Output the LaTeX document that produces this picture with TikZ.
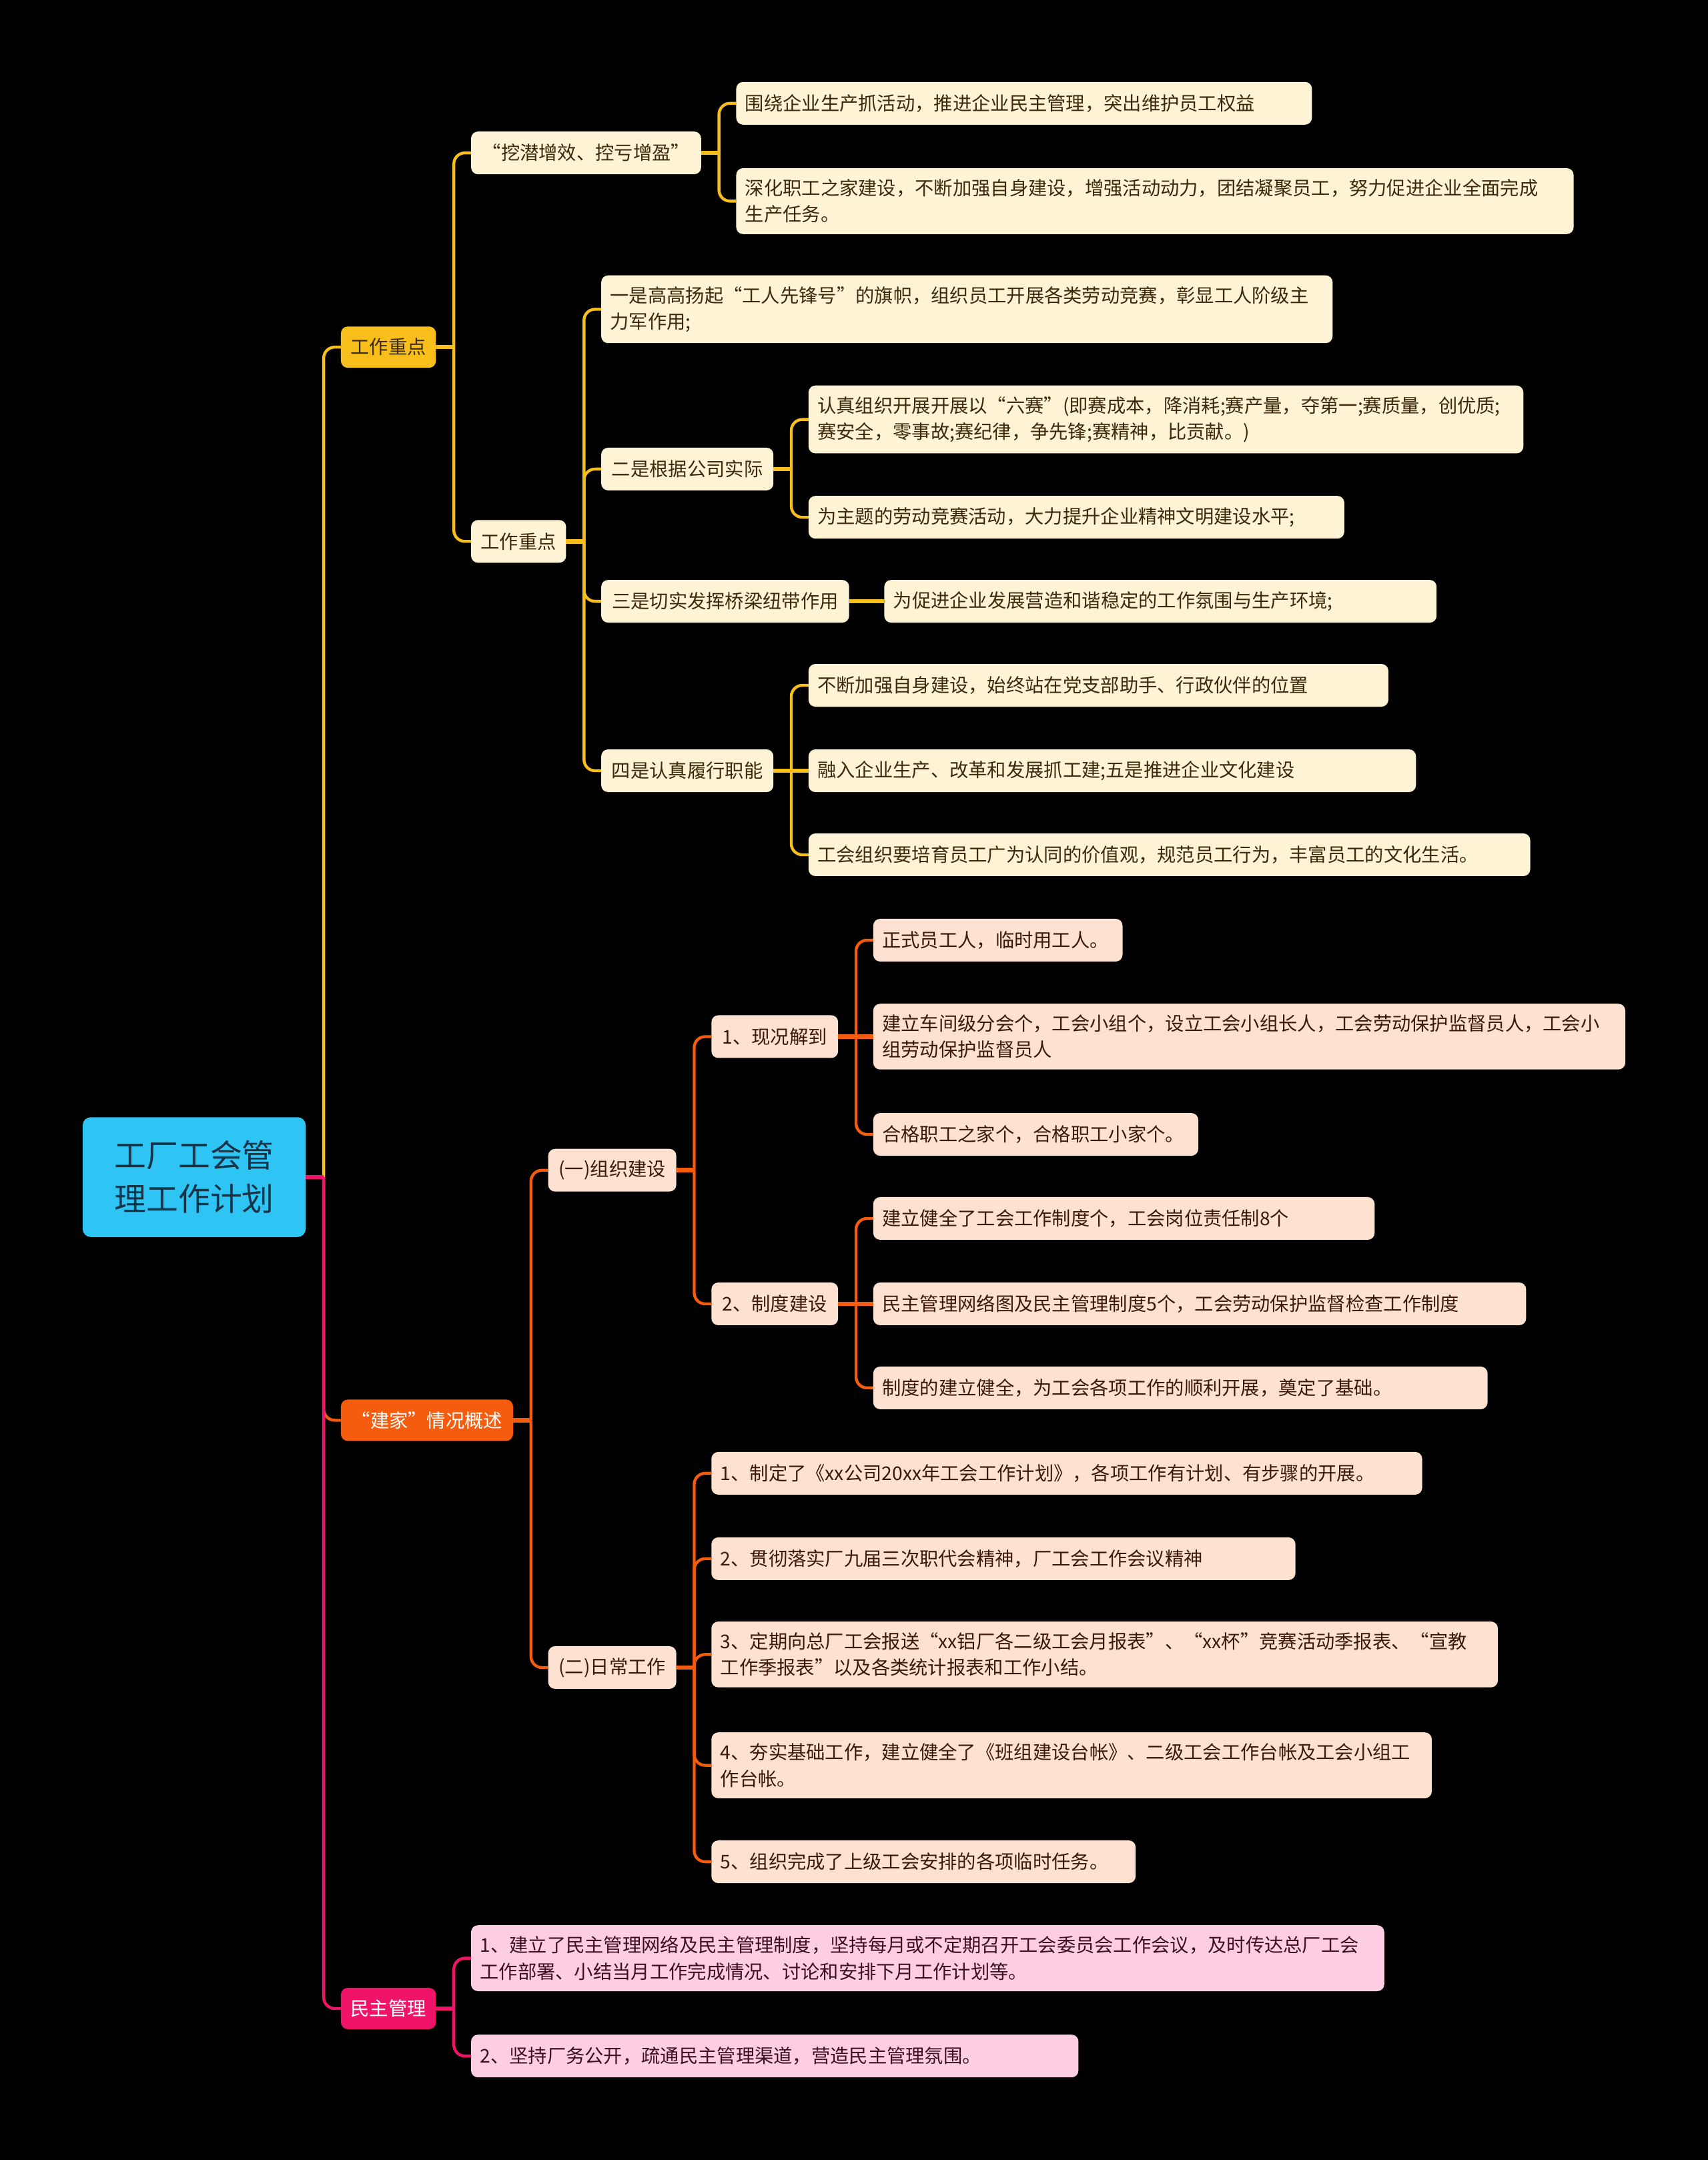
\documentclass[tikz,border=0pt]{standalone}
\usepackage{fontspec}
\setmainfont{Noto Sans CJK SC}
\usepackage{tikz}
\usetikzlibrary{positioning}
\usepackage{xcolor}
\definecolor{cBg}{RGB}{0,0,0}
\definecolor{cRoot}{RGB}{46,197,245}
\definecolor{cRootTxt}{RGB}{22,52,72}
\definecolor{cYel}{RGB}{247,190,28}
\definecolor{cCream}{RGB}{254,243,212}
\definecolor{cYelTxt}{RGB}{60,42,10}
\definecolor{cOra}{RGB}{246,92,14}
\definecolor{cPeach}{RGB}{253,226,210}
\definecolor{cOraTxt}{RGB}{60,25,10}
\definecolor{cPnk}{RGB}{240,20,105}
\definecolor{cRose}{RGB}{253,206,226}
\definecolor{cPnkTxt}{RGB}{60,15,35}
\tikzset{
  basebox/.style={rectangle,rounded corners=0.1cm,align=left,outer sep=0pt,
                  font=\fontsize{7.8}{10.8}\selectfont,
                  inner xsep=0.13cm,inner ysep=0.16cm,minimum height=0.62cm},
  rootnode/.style={basebox,fill=cRoot,text=cRootTxt,align=center,
                   font=\fontsize{13.2}{18}\selectfont,rounded corners=0.12cm,
                   minimum width=3.24cm,minimum height=1.74cm},
  ylwtop/.style={basebox,fill=cYel,text=cYelTxt,minimum height=0.6cm,inner xsep=0.05cm},
  oratop/.style={basebox,fill=cOra,text=white,minimum height=0.6cm,inner xsep=0.05cm},
  pnktop/.style={basebox,fill=cPnk,text=white,minimum height=0.6cm,inner xsep=0.05cm},
  ylwnode/.style={basebox,fill=cCream,text=cYelTxt},
  oranode/.style={basebox,fill=cPeach,text=cOraTxt},
  pnknode/.style={basebox,fill=cRose,text=cPnkTxt},
  ylwln/.style={draw=cYel,line width=1.2pt,rounded corners=0.16cm},
  oraln/.style={draw=cOra,line width=1.2pt,rounded corners=0.16cm},
  pnkln/.style={draw=cPnk,line width=1.2pt,rounded corners=0.16cm},
  ylwstub/.style={draw=cYel,line width=1.8pt},
  orastub/.style={draw=cOra,line width=1.8pt},
  pnkstub/.style={draw=cPnk,line width=1.8pt}
}
\begin{document}
\begin{tikzpicture}[node distance=0.51cm]

  \fill[cBg] (0,0) rectangle (24.8,-31.36);

  \node[rootnode] (root) at (2.82,-17.09) {工厂工会管\\理工作计划};

  % first level
  \node[ylwtop,minimum width=1.38cm,right=of root,yshift=12.05cm] (zdA) {工作重点};
  \node[oratop,minimum width=2.5cm,right=of root,yshift=-3.53cm] (jjA) {“建家”情况概述};
  \node[pnktop,minimum width=1.38cm,right=of root,yshift=-12.07cm] (mzA) {民主管理};

  % 工作重点
  \node[ylwnode,minimum width=3.34cm,right=of zdA,yshift=2.82cm] (wqB) {“挖潜增效、控亏增盈”};
  \node[ylwnode,minimum width=1.38cm,right=of zdA,yshift=-2.82cm] (zdB) {工作重点};

  \node[ylwnode,text width=8.10cm,right=of wqB,yshift=0.72cm] (w1)
      {围绕企业生产抓活动，推进企业民主管理，突出维护员工权益};
  \node[ylwnode,text width=11.90cm,right=of wqB,yshift=-0.70cm] (w2)
      {深化职工之家建设，不断加强自身建设，增强活动动力，团结凝聚员工，努力促进企业全面完成\\生产任务。};

  \node[ylwnode,text width=10.36cm,right=of zdB,yshift=3.37cm] (y1)
      {一是高高扬起“工人先锋号”的旗帜，组织员工开展各类劳动竞赛，彰显工人阶级主\\力军作用;};
  \node[ylwnode,minimum width=2.5cm,right=of zdB,yshift=1.05cm] (y2) {二是根据公司实际};
  \node[ylwnode,minimum width=3.6cm,right=of zdB,yshift=-0.87cm] (y3) {三是切实发挥桥梁纽带作用};
  \node[ylwnode,minimum width=2.5cm,right=of zdB,yshift=-3.33cm] (y4) {四是认真履行职能};

  \node[ylwnode,text width=10.12cm,right=of y2,yshift=0.72cm] (e1)
      {认真组织开展开展以“六赛”(即赛成本，降消耗;赛产量，夺第一;赛质量，创优质;\\赛安全，零事故;赛纪律，争先锋;赛精神，比贡献。)};
  \node[ylwnode,text width=7.52cm,right=of y2,yshift=-0.70cm] (e2)
      {为主题的劳动竞赛活动，大力提升企业精神文明建设水平;};
  \node[ylwnode,text width=7.76cm,right=of y3] (s1)
      {为促进企业发展营造和谐稳定的工作氛围与生产环境;};
  \node[ylwnode,text width=8.16cm,right=of y4,yshift=1.24cm] (f1)
      {不断加强自身建设，始终站在党支部助手、行政伙伴的位置};
  \node[ylwnode,text width=8.56cm,right=of y4] (f2)
      {融入企业生产、改革和发展抓工建;五是推进企业文化建设};
  \node[ylwnode,text width=10.22cm,right=of y4,yshift=-1.22cm] (f3)
      {工会组织要培育员工广为认同的价值观，规范员工行为，丰富员工的文化生活。};

  % 建家
  \node[oranode,minimum width=1.86cm,right=of jjA,yshift=3.63cm] (zzB) {(一)组织建设};
  \node[oranode,minimum width=1.86cm,right=of jjA,yshift=-3.59cm] (rcB) {(二)日常工作};

  \node[oranode,minimum width=1.84cm,right=of zzB,yshift=1.94cm] (xkC) {1、现况解到};
  \node[oranode,minimum width=1.84cm,right=of zzB,yshift=-1.94cm] (zdC) {2、制度建设};

  \node[oranode,text width=3.36cm,right=of xkC,yshift=1.40cm] (x1)
      {正式员工人，临时用工人。};
  \node[oranode,text width=10.66cm,right=of xkC] (x2)
      {建立车间级分会个，工会小组个，设立工会小组长人，工会劳动保护监督员人，工会小\\组劳动保护监督员人};
  \node[oranode,text width=4.46cm,right=of xkC,yshift=-1.42cm] (x3)
      {合格职工之家个，合格职工小家个。};

  \node[oranode,text width=7.02cm,right=of zdC,yshift=1.24cm] (d1)
      {建立健全了工会工作制度个，工会岗位责任制8个};
  \node[oranode,text width=9.22cm,right=of zdC] (d2)
      {民主管理网络图及民主管理制度5个，工会劳动保护监督检查工作制度};
  \node[oranode,text width=8.66cm,right=of zdC,yshift=-1.22cm] (d3)
      {制度的建立健全，为工会各项工作的顺利开展，奠定了基础。};

  \node[oranode,text width=10.06cm,right=of rcB,yshift=2.82cm] (r1)
      {1、制定了《xx公司20xx年工会工作计划》，各项工作有计划、有步骤的开展。};
  \node[oranode,text width=8.22cm,right=of rcB,yshift=1.58cm] (r2)
      {2、贯彻落实厂九届三次职代会精神，厂工会工作会议精神};
  \node[oranode,text width=11.16cm,right=of rcB,yshift=0.19cm] (r3)
      {3、定期向总厂工会报送“xx铝厂各二级工会月报表”、“xx杯”竞赛活动季报表、“宣教\\工作季报表”以及各类统计报表和工作小结。};
  \node[oranode,text width=10.20cm,right=of rcB,yshift=-1.42cm] (r4)
      {4、夯实基础工作，建立健全了《班组建设台帐》、二级工会工作台帐及工会小组工\\作台帐。};
  \node[oranode,text width=5.90cm,right=of rcB,yshift=-2.82cm] (r5)
      {5、组织完成了上级工会安排的各项临时任务。};

  % 民主管理
  \node[pnknode,text width=13.0cm,right=of mzA,yshift=0.73cm] (m1)
      {1、建立了民主管理网络及民主管理制度，坚持每月或不定期召开工会委员会工作会议，及时传达总厂工会\\工作部署、小结当月工作完成情况、讨论和安排下月工作计划等。};
  \node[pnknode,text width=8.56cm,right=of mzA,yshift=-0.69cm] (m2)
      {2、坚持厂务公开，疏通民主管理渠道，营造民主管理氛围。};

  % connectors
  \coordinate (rootj) at ([xshift=0.26cm]root.east);
  \draw[oraln] (rootj) |- (jjA.west);
  \draw[ylwln] (rootj) |- (zdA.west);
  \draw[pnkln] (rootj) |- (mzA.west);
  \draw[pnkstub] (root.east) -- (rootj);

  \draw[ylwstub] (zdA.east) -- ++(0.26,0) coordinate (zdAj);
  \draw[ylwln] (zdAj) |- (wqB.west);
  \draw[ylwln] (zdAj) |- (zdB.west);
  \draw[ylwstub] (wqB.east) -- ++(0.26,0) coordinate (wqBj);
  \draw[ylwln] (wqBj) |- (w1.west);
  \draw[ylwln] (wqBj) |- (w2.west);
  \draw[ylwstub] (zdB.east) -- ++(0.26,0) coordinate (zdBj);
  \draw[ylwln] (zdBj) |- (y1.west);
  \draw[ylwln] (zdBj) |- (y2.west);
  \draw[ylwln] (zdBj) |- (y3.west);
  \draw[ylwln] (zdBj) |- (y4.west);
  \draw[ylwstub] (y2.east) -- ++(0.26,0) coordinate (y2j);
  \draw[ylwln] (y2j) |- (e1.west);
  \draw[ylwln] (y2j) |- (e2.west);
  \draw[ylwstub] (y3.east) -- (s1.west);
  \draw[ylwstub] (y4.east) -- ++(0.26,0) coordinate (y4j);
  \draw[ylwln] (y4j) |- (f1.west);
  \draw[ylwstub] (y4j) -- (f2.west);
  \draw[ylwln] (y4j) |- (f3.west);

  \draw[orastub] (jjA.east) -- ++(0.26,0) coordinate (jjAj);
  \draw[oraln] (jjAj) |- (zzB.west);
  \draw[oraln] (jjAj) |- (rcB.west);
  \draw[orastub] (zzB.east) -- ++(0.26,0) coordinate (zzBj);
  \draw[oraln] (zzBj) |- (xkC.west);
  \draw[oraln] (zzBj) |- (zdC.west);
  \draw[orastub] (xkC.east) -- ++(0.26,0) coordinate (xkCj);
  \draw[oraln] (xkCj) |- (x1.west);
  \draw[orastub] (xkCj) -- (x2.west);
  \draw[oraln] (xkCj) |- (x3.west);
  \draw[orastub] (zdC.east) -- ++(0.26,0) coordinate (zdCj);
  \draw[oraln] (zdCj) |- (d1.west);
  \draw[orastub] (zdCj) -- (d2.west);
  \draw[oraln] (zdCj) |- (d3.west);
  \draw[orastub] (rcB.east) -- ++(0.26,0) coordinate (rcBj);
  \draw[oraln] (rcBj) |- (r1.west);
  \draw[oraln] (rcBj) |- (r2.west);
  \draw[oraln] (rcBj) |- (r3.west);
  \draw[oraln] (rcBj) |- (r4.west);
  \draw[oraln] (rcBj) |- (r5.west);

  \draw[pnkstub] (mzA.east) -- ++(0.26,0) coordinate (mzAj);
  \draw[pnkln] (mzAj) |- (m1.west);
  \draw[pnkln] (mzAj) |- (m2.west);

\end{tikzpicture}
\end{document}
